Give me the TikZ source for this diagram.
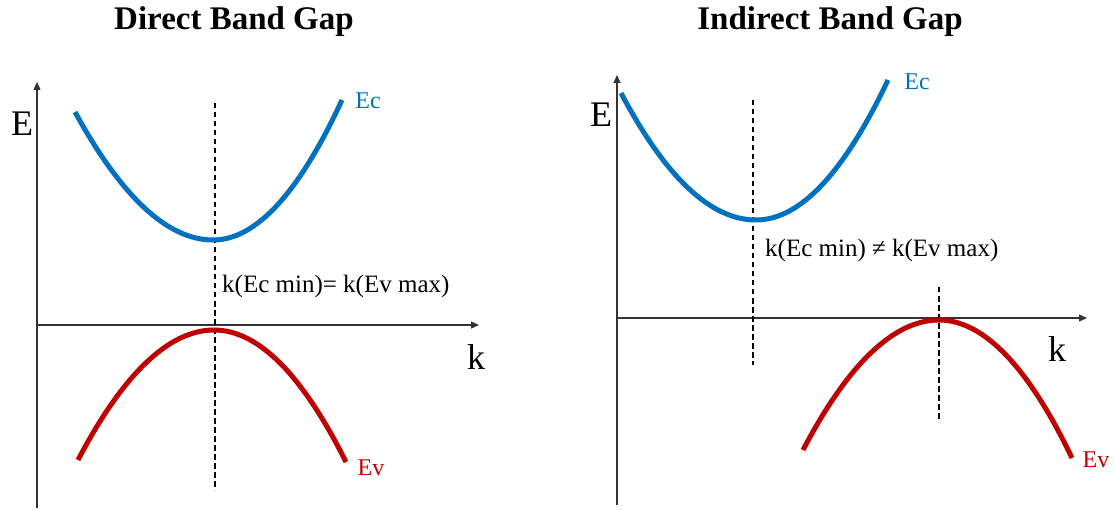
\documentclass[tikz,border=0pt]{standalone}
\usepackage{fontspec}
\setmainfont{Liberation Serif}
\usetikzlibrary{arrows.meta,positioning}
\definecolor{bandblue}{RGB}{0,112,192}
\definecolor{bandred}{RGB}{192,0,0}

\begin{document}
\begin{tikzpicture}[x=1pt,y=-1pt,>={Triangle[length=8pt,width=7pt]},
axis/.style={draw=black!80,line width=1.3pt,->},
band/.style={line width=5pt},
kline/.style={dash pattern=on 5.5pt off 3.5pt,line width=1.3pt},
title/.style={font=\fontsize{33}{38}\selectfont\bfseries},
axlabel/.style={font=\fontsize{36}{40}\selectfont,inner sep=0pt},
bandlabel/.style={font=\fontsize{24}{28}\selectfont,inner sep=0pt},
note/.style={font=\fontsize{25}{30}\selectfont,anchor=west,inner sep=0pt}]
\useasboundingbox (0,0) rectangle (1115,510);
% direct gap
\node[title] (tdirect) at (234,22) {Direct Band Gap};
\coordinate (ebot1) at (37,508);
\coordinate (etop1) at (37,82);
\coordinate (korg1) at (37,325);
\coordinate (kend1) at (479,325);
\draw[axis] (ebot1)--(etop1);
\draw[axis] (korg1)--(kend1);
\node[axlabel] (elab1) at (22,124) {E};
\node[axlabel] (klab1) at (476,357) {k};
\draw[kline] (215,103)--(215,490);
\draw[band,bandblue] (75,112) .. controls (120,194) and (166,240) .. (213,240)
  .. controls (256,240) and (299,193) .. (342,100);
\draw[band,bandred] (78,460) .. controls (123,374) and (169,330) .. (214,330)
  .. controls (258,330) and (302,374) .. (346,462);
\node[bandlabel,text=bandblue] (ec1) at (368,101) {Ec};
\node[bandlabel,text=bandred] (ev1) at (371,468) {Ev};
\node[note] (same) at (222,286) {k(Ec min)= k(Ev max)};
% indirect gap
\node[title] (tindirect) at (830,22) {Indirect Band Gap};
\coordinate (ebot2) at (617,505);
\coordinate (etop2) at (617,75);
\coordinate (korg2) at (617,318);
\coordinate (kend2) at (1087,318);
\draw[axis] (ebot2)--(etop2);
\draw[axis] (korg2)--(kend2);
\node[axlabel] (elab2) at (601,115) {E};
\node[axlabel] (klab2) at (1057,349) {k};
\draw[kline] (753,100)--(753,365);
\draw[kline] (939,287)--(939,420);
\draw[band,bandblue] (621,93) .. controls (666,178) and (711,220) .. (756,220)
  .. controls (800,220) and (844,173) .. (888,80);
\draw[band,bandred] (803,450) .. controls (848,364) and (894,320) .. (939,320)
  .. controls (983,320) and (1028,366) .. (1072,458);
\node[bandlabel,text=bandblue] (ec2) at (917,82) {Ec};
\node[bandlabel,text=bandred] (ev2) at (1096,460) {Ev};
\node[note] (differ) at (765,250) {k(Ec min) ≠ k(Ev max)};
\end{tikzpicture}
\end{document}
